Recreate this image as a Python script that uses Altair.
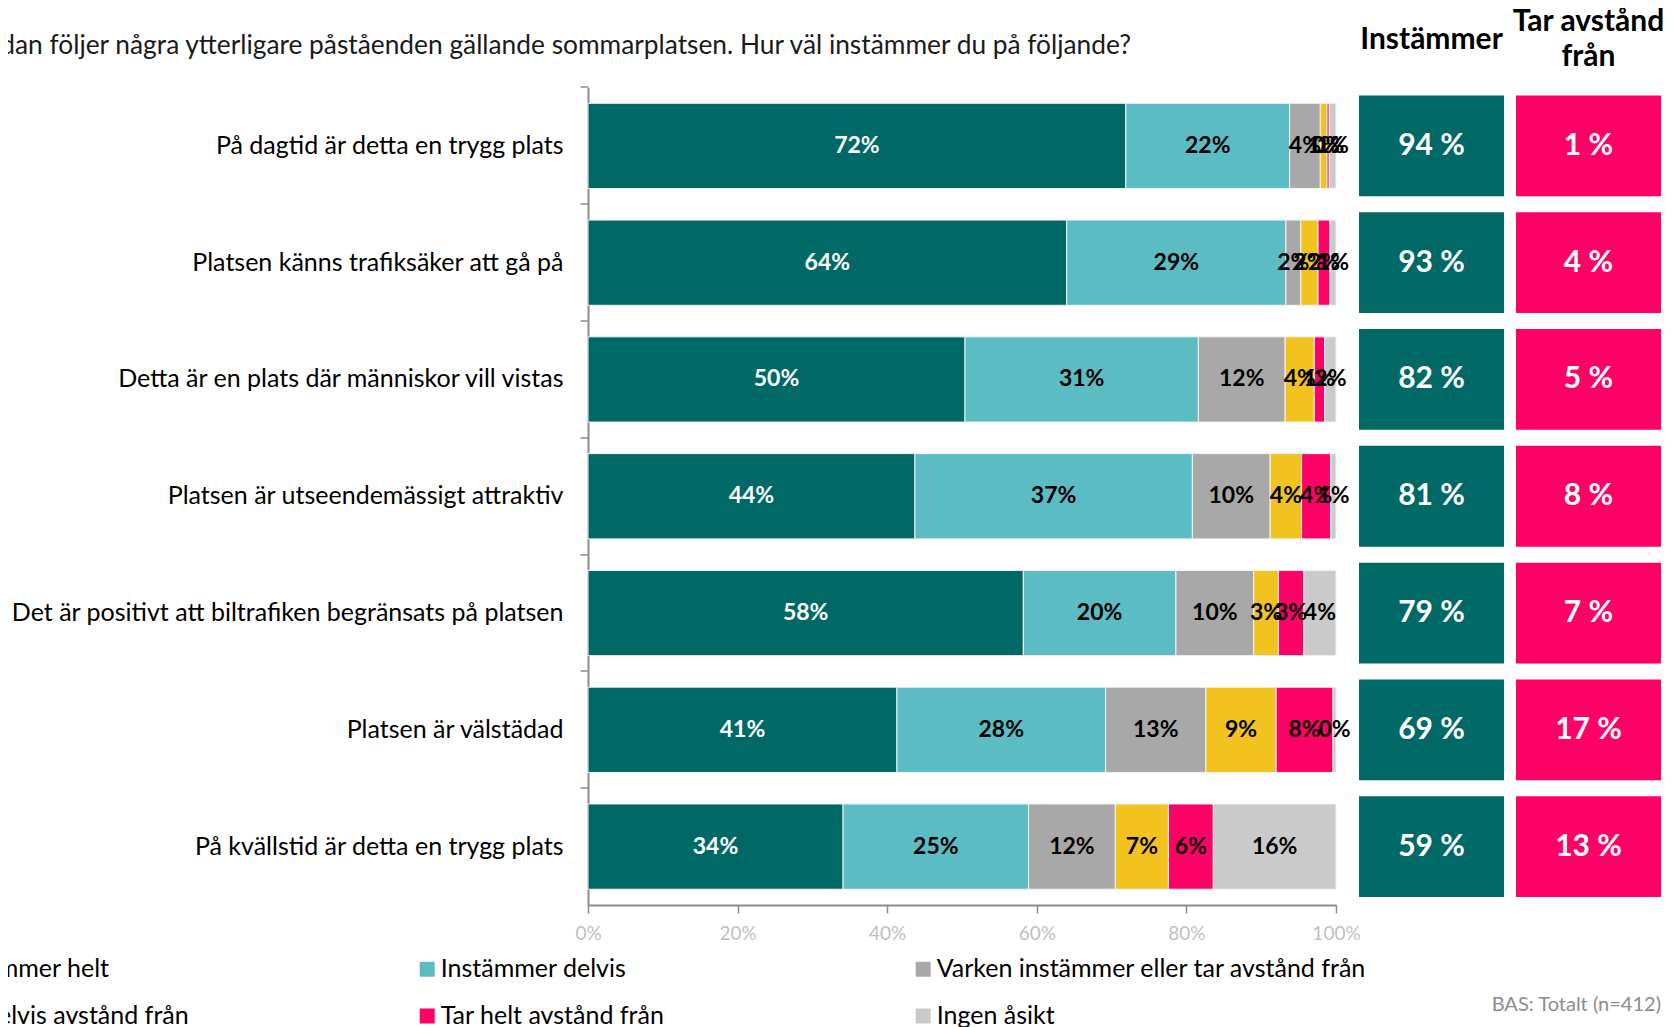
import altair as alt
import pandas as pd

FONT = "Lato"

title_text = ("Nedan följer några ytterligare påståenden gällande sommarplatsen. "
              "Hur väl instämmer du på följande?")

statements = [
    "På dagtid är detta en trygg plats",
    "Platsen känns trafiksäker att gå på",
    "Detta är en plats där människor vill vistas",
    "Platsen är utseendemässigt attraktiv",
    "Det är positivt att biltrafiken begränsats på platsen",
    "Platsen är välstädad",
    "På kvällstid är detta en trygg plats",
]

categories = [
    "Instämmer helt",
    "Instämmer delvis",
    "Varken instämmer eller tar avstånd från",
    "Tar delvis avstånd från",
    "Tar helt avstånd från",
    "Ingen åsikt",
]
colors = ["#006966", "#5BBCC4", "#A8A8A8", "#F2C21F", "#FF0066", "#CACACA"]

instammer_helt = [71.9, 64.0, 50.4, 43.7, 58.2, 41.3, 34.1]
instammer_delvis = [21.9, 29.3, 31.2, 37.1, 20.4, 27.9, 24.8]
varken = [4.1, 2.0, 11.6, 10.4, 10.4, 13.4, 11.6]
tar_delvis = [0.9, 2.3, 3.9, 4.2, 3.3, 9.4, 7.1]
tar_helt = [0.3, 1.6, 1.4, 3.9, 3.4, 7.6, 6.0]
ingen_asikt = [0.9, 0.8, 1.5, 0.7, 4.3, 0.4, 16.4]
series = [instammer_helt, instammer_delvis, varken, tar_delvis, tar_helt, ingen_asikt]

summary_measures = ["Instämmer", "Tar avstånd från"]
instammer_total = [94, 93, 82, 81, 79, 69, 59]
avstand_total = [1, 4, 5, 8, 7, 17, 13]

tick_values = [0, 20, 40, 60, 80, 100]
note_text = "BAS: Totalt (n=412)"

rows = []
for ci, (cat, vals) in enumerate(zip(categories, series)):
    for s, v in zip(statements, vals):
        rows.append({"statement": s, "category": cat, "order": ci, "value": v})
df = pd.DataFrame(rows)

box_rows = []
for m, vals in zip(summary_measures, [instammer_total, avstand_total]):
    for s, v in zip(statements, vals):
        box_rows.append({"statement": s, "measure": m, "value": v})
box_df = pd.DataFrame(box_rows)

W, H = 748, 817.5

ysc = alt.Scale(domain=statements, paddingInner=0.27, paddingOuter=0.135)
y_axis = alt.Axis(title=None, labelFontSize=25, labelColor="#000000", labelPadding=17,
                  tickSize=8, tickColor="#8C8C8C", tickWidth=1.5, domainColor="#8C8C8C",
                  domainWidth=2, labelLimit=800, bandPosition=-0.185)
xsc = alt.Scale(domain=[0, 100], nice=False)
x_axis = alt.Axis(values=tick_values, labelExpr="datum.value + '%'", title=None, grid=False,
                  labelColor="#BFBFBF", labelFontSize=19, tickSize=8, tickColor="#8C8C8C",
                  tickWidth=1.5, domainColor="#8C8C8C", domainWidth=2, labelPadding=11,
                  labelFlush=False)

base = alt.Chart(df).transform_stack(
    stack="value", groupby=["statement"], as_=["x0", "x1"],
    sort=[alt.SortField("order", order="ascending")],
).transform_calculate(
    mid="(datum.x0 + datum.x1) / 2",
    label="format(datum.value, '.0f') + '%'",
)

bars = base.mark_bar(stroke="#F4F4F4", strokeWidth=1).encode(
    y=alt.Y("statement:N", scale=ysc, axis=y_axis),
    x=alt.X("x0:Q", scale=xsc, axis=x_axis),
    x2="x1:Q",
    color=alt.Color(
        "category:N",
        scale=alt.Scale(domain=categories, range=colors),
        legend=alt.Legend(title=None, orient="none", legendX=-669.3, legendY=869, columns=3,
                          direction="horizontal",
                          symbolType="square", symbolSize=225, symbolStrokeWidth=0,
                          labelFontSize=25, labelColor="#000000", rowPadding=21,
                          columnPadding=39, gridAlign="all", labelLimit=1000, labelOffset=1),
    ),
)

bar_text = base.mark_text(fontSize=23, fontWeight="bold").encode(
    y=alt.Y("statement:N", scale=ysc, axis=y_axis),
    x=alt.X("mid:Q", scale=xsc, axis=x_axis),
    text="label:N",
    color=alt.condition("datum.order == 0", alt.value("white"), alt.value("black")),
)

ZW = "\u200b"
bx = alt.Scale(domain=summary_measures, range=[771, 1073], paddingInner=0.076, paddingOuter=0)
by = alt.Scale(domain=statements, paddingInner=0.137, paddingOuter=0.0685)
box_axis = alt.Axis(orient="top", title=None, domain=False, ticks=False, tickSize=0,
                    labelFontSize=30, labelFontWeight="bold", labelColor="#000000",
                    labelPadding=66, labelBaseline="middle", labelLineHeight=17.5, labelAngle=0,
                    labelExpr=("datum.value == 'Tar avstånd från' ? ['Tar avstånd', '" + ZW +
                               "', 'från'] : ['" + ZW + "', datum.value]"))

boxes = alt.Chart(box_df).mark_rect().encode(
    x=alt.X("measure:N", scale=bx, axis=box_axis),
    y=alt.Y("statement:N", scale=by, axis=None),
    color=alt.condition("datum.measure == 'Instämmer'", alt.value("#006966"), alt.value("#FF0066")),
)
box_text = alt.Chart(box_df).transform_calculate(
    label="datum.value + ' %'"
).mark_text(fontSize=30, fontWeight="bold", color="white").encode(
    x=alt.X("measure:N", scale=bx, axis=box_axis),
    y=alt.Y("statement:N", scale=by, axis=None),
    text="label:N",
)
note = alt.Chart(pd.DataFrame({"note": [note_text]})).mark_text(
    align="right", baseline="middle", fontSize=20, color="#8C8C8C"
).encode(x=alt.value(1073), y=alt.value(917.5), text="note:N")

chart = alt.layer(
    alt.layer(bars, bar_text),
    alt.layer(boxes, box_text, note),
).resolve_scale(x="independent", y="independent").properties(
    width=W, height=H,
    title=alt.Title(title_text, anchor="end", frame="group", fontSize=26.3, fontWeight="normal",
                    color="#1A1A1A", dx=-205, dy=56.5),
    autosize=alt.AutoSizeParams(type="none"),
    padding={"left": 580, "top": 79.5, "right": 329, "bottom": 121.5},
).configure(font=FONT).configure_view(stroke=None)

chart.save("out.html", embed_options={"renderer": "svg", "actions": False})
